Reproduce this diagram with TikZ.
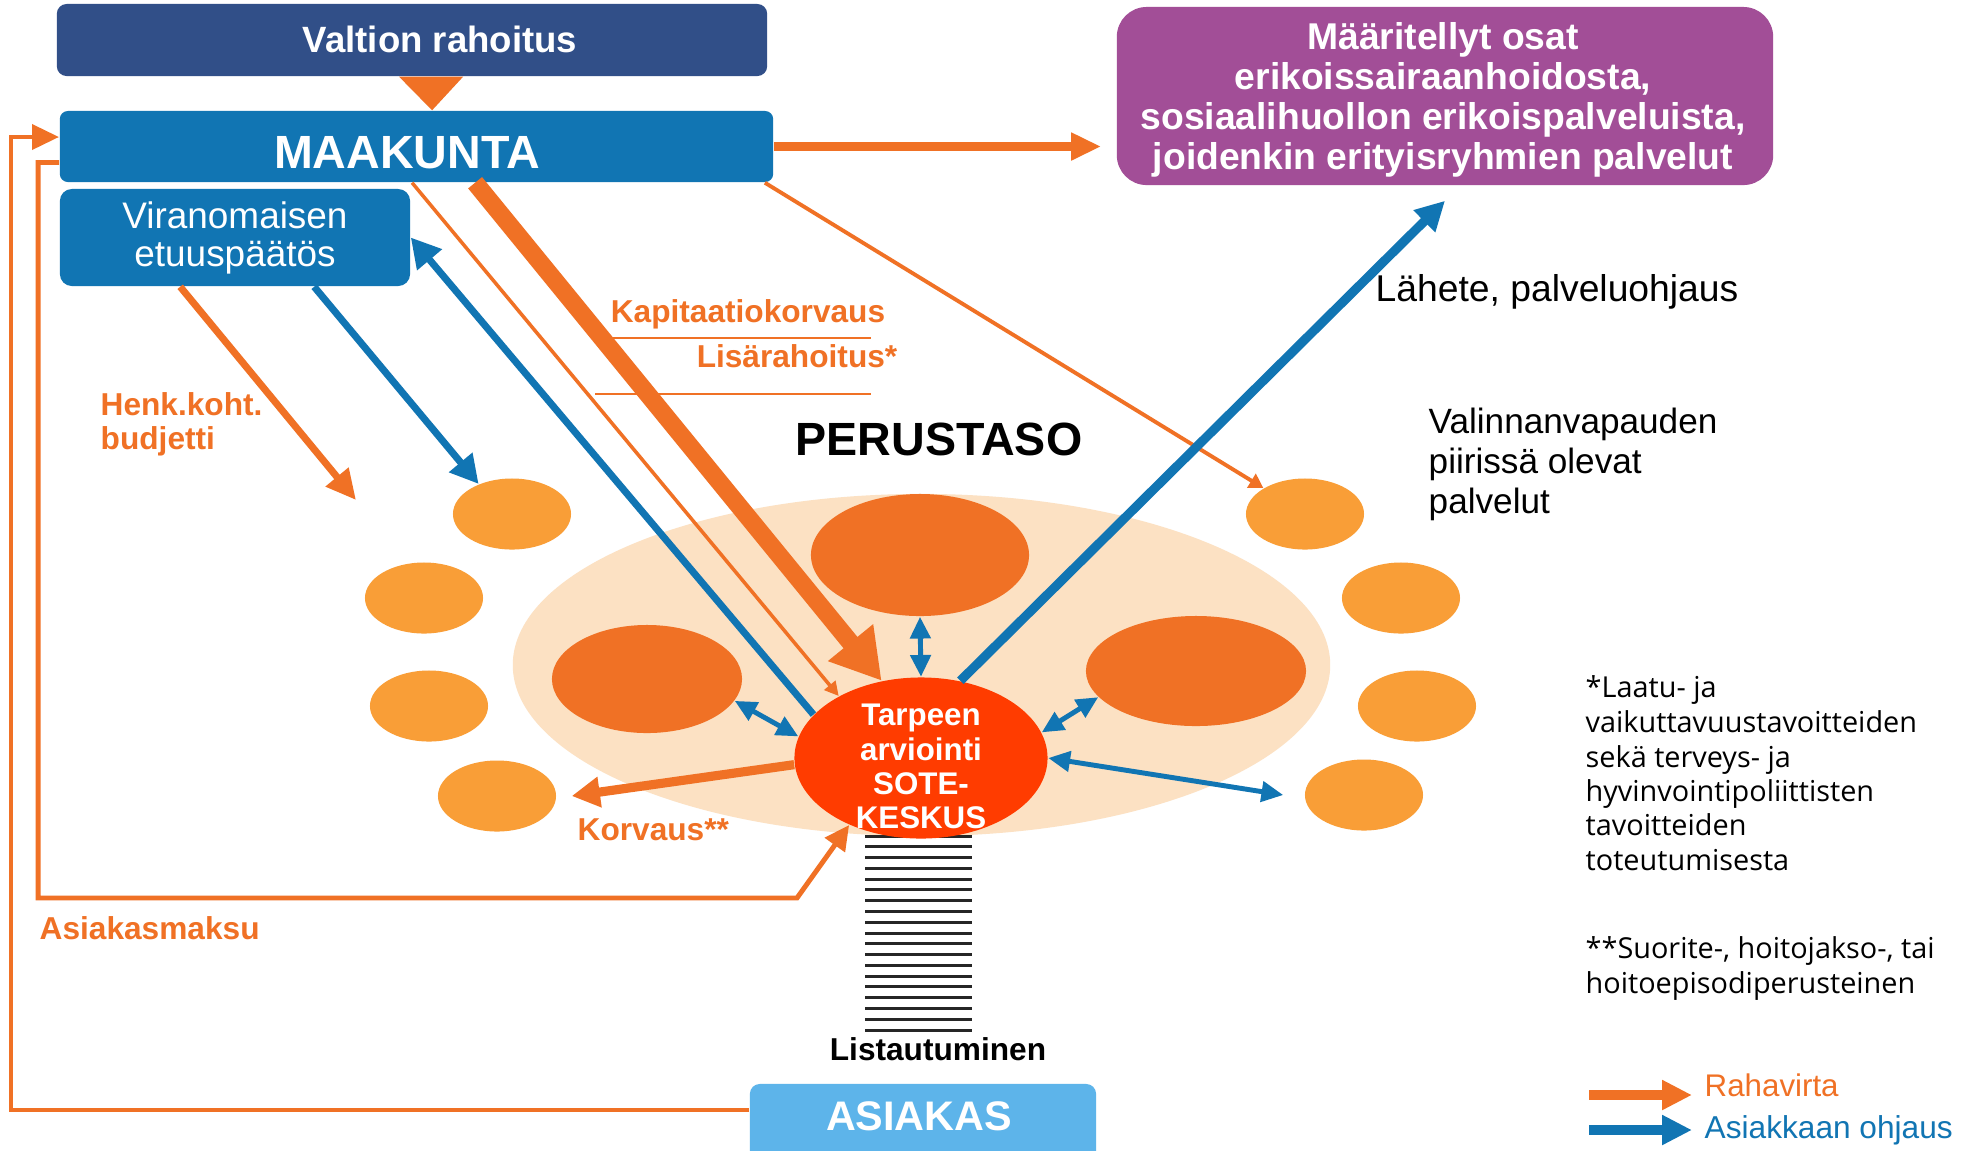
\documentclass[tikz,border=0pt]{standalone}
\usepackage{fontspec}
\setmainfont{Liberation Sans}
\newfontfamily\myr{Open Sans}
\usetikzlibrary{arrows.meta,shapes.geometric,calc}
\definecolor{navy}{HTML}{314F88}
\definecolor{mblue}{HTML}{1175B3}
\definecolor{purp}{HTML}{A24E97}
\definecolor{org}{HTML}{F07125}
\definecolor{lorg}{HTML}{F99E37}
\definecolor{peach}{HTML}{FCE1C3}
\definecolor{sred}{HTML}{FF3C00}
\definecolor{lblue}{HTML}{5DB4EA}
\begin{document}
\begin{tikzpicture}[x=0.01cm,y=-0.01cm,
  box/.style={rectangle,inner sep=0pt,text=white},
  blob/.style={ellipse,inner sep=0pt,fill=lorg,minimum width=11.8mm,minimum height=7.1mm},
  bigblob/.style={ellipse,inner sep=0pt,fill=org},
  olabel/.style={inner sep=0pt,text=org,font=\bfseries\fontsize{9}{10}\selectfont},
  reglabel/.style={inner sep=0pt,font=\fontsize{10.6}{11}\selectfont},
  fnote/.style={inner sep=0pt,anchor=base west,font=\myr\fontsize{8.2}{10}\selectfont},
  stripe/.style={line width=0.85pt,draw=black!85},
  uline/.style={draw=org,line width=0.7pt}]
\useasboundingbox (0,0) rectangle (1971,1150);
\fill[white] (0,0) rectangle (1971,1150);

% perustaso area
\node[ellipse,fill=peach,inner sep=0pt,minimum width=81.7mm,minimum height=34.2mm] (peach) at (921.5,665) {};
\node[bigblob,minimum width=21.8mm,minimum height=12.2mm] (T) at (920,555) {};
\node[bigblob,minimum width=19mm,minimum height=10.8mm] (L) at (647,679) {};
\node[bigblob,minimum width=22mm,minimum height=11mm] (R) at (1196,671) {};
\node[blob] (A) at (512,514) {};
\node[blob] (B) at (424,598) {};
\node[blob] (C) at (429,706) {};
\node[blob] (D) at (497,796) {};
\node[blob] (E) at (1305,514) {};
\node[blob] (F) at (1401,598) {};
\node[blob] (G) at (1417,706) {};
\node[blob] (H) at (1364,795) {};

% listautuminen stripes
\foreach \i in {0,...,18} \draw[stripe] (865,{836+\i*10.78}) -- (972,{836+\i*10.78});

% boxes
\node[box,fill=navy,rounded corners=2.8pt,minimum width=71mm,minimum height=7.2mm] (valtion) at (412,40) {};
\node[inner sep=0pt,anchor=base,text=white,font=\bfseries\fontsize{10.4}{12}\selectfont] (valtiont) at (440,52) {Valtion rahoitus};
\node[box,fill=mblue,rounded corners=2.3pt,minimum width=71.3mm,minimum height=7.1mm] (maak) at (416.5,146.5) {};
\node[inner sep=0pt,anchor=base,text=white,font=\bfseries\fontsize{13.25}{14}\selectfont] (maakt) at (407,168) {MAAKUNTA};
\node[box,fill=mblue,rounded corners=3.4pt,minimum width=35mm,minimum height=9.7mm,align=center,font=\fontsize{10.5}{10.8}\selectfont] (viran) at (235,237.5) {Viranomaisen\\etuuspäätös};
\node[box,fill=purp,rounded corners=8.5pt,minimum width=65.6mm,minimum height=17.8mm] (purple) at (1445,96) {};
\node[text=white,align=center,font=\bfseries\fontsize{10.6}{11.4}\selectfont] (purplet) at (1443,100) {Määritellyt osat\\erikoissairaanhoidosta,\\sosiaalihuollon erikoispalveluista,\\joidenkin erityisryhmien palvelut};
\node[box,fill=lblue,rounded corners=2.8pt,minimum width=34.6mm,minimum height=8.6mm] (asiak) at (923,1127) {};
\node[inner sep=0pt,anchor=base,text=white,font=\bfseries\fontsize{11.75}{13}\selectfont] (asiakt) at (919,1130) {ASIAKAS};

% triangle from valtion to maakunta
\fill[org] ($(valtion.south west)+(343,0)$) -- ($(valtion.south west)+(407,0)$) -- ($(maak.north west)+(373,0)$) -- cycle;

% SOTE
\node[ellipse,fill=sred,inner sep=0pt,minimum width=25.3mm,minimum height=16.1mm] (sote) at (921,758) {};

% arrows: money
\draw[org,line width=2.6pt,-{Triangle[length=8.5pt,width=7.4pt]}] (maak.east) -- ([xshift=-1.5mm]maak.east -| purple.west);
\draw[org,line width=2pt,-{Triangle[length=8.5pt,width=8pt]}] ($(viran.south west)+(121,0)$) -- (356,500) coordinate (henkend);
\draw[org,line width=1pt,-{Triangle[length=4pt,width=4pt]}] ($(maak.south west)+(353,0)$) -- (sote.143);
\draw[org,line width=5.1pt,-{Triangle[length=14pt,width=15.6pt]}] ($(maak.south west)+(416,0)$) -- (sote.117);
\draw[org,line width=1.1pt,-{Triangle[length=4pt,width=4.5pt]}] ($(maak.south east)+(-9,0)$) -- (E.148);
\draw[org,line width=2.6pt,-{Triangle[length=8pt,width=8.3pt]}] (sote.183) -- ($(D.east)+(15,0)$);
\draw[org,line width=1.4pt,-{Triangle[length=7pt,width=6.8pt]}] ($(maak.west)+(0,16)$) -- ++(-21,0) |- (797,898) -- (sote.223);
\draw[org,line width=1.4pt,-{Triangle[length=7.7pt,width=7pt]}] ($(asiak.west)+(0,-17)$) -| (11,137) -- ($(maak.west)+(0,-9.5)$);

% arrows: client steering
\draw[mblue,line width=2pt,-{Triangle[length=8pt,width=8.2pt]}] ($(viran.south west)+(255,0)$) -- (A.138);
\draw[mblue,line width=2pt,-{Triangle[length=8.3pt,width=8.8pt]}] (sote.158) -- (viran.east);
\draw[mblue,line width=2.6pt,-{Triangle[length=8.3pt,width=8.3pt]}] (sote.63) -- ([yshift=-1.5mm]purple.south);
\draw[mblue,line width=1.4pt,{Triangle[length=6.2pt,width=5.7pt]}-{Triangle[length=6.2pt,width=5.7pt]}] (sote.north) -- (T.south);
\draw[mblue,line width=1.4pt,{Triangle[length=6.2pt,width=5.7pt]}-{Triangle[length=6.2pt,width=5.7pt]}] (sote.170) -- (L.-14);
\draw[mblue,line width=1.4pt,{Triangle[length=6.2pt,width=5.7pt]}-{Triangle[length=6.2pt,width=5.7pt]}] (sote.12) -- (R.195);
\draw[mblue,line width=1.4pt,{Triangle[length=6.2pt,width=5.7pt]}-{Triangle[length=6.2pt,width=5.7pt]}] (sote.east) -- ($(H.west)+(-21,0)$);

\node[text=white,align=center,font=\bfseries\fontsize{8.9}{9.7}\selectfont] (sotet) at (921,766.5) {Tarpeen\\arviointi\\SOTE-\\KESKUS};

% labels
\node[inner sep=0pt,anchor=base,font=\bfseries\fontsize{13.25}{14}\selectfont] (perus) at (939,455) {PERUSTASO};
\node[inner sep=0pt,anchor=base,font=\bfseries\fontsize{9}{10}\selectfont] (lista) at (938,1060) {Listautuminen};
\node[olabel,anchor=base] (kapi) at (748,322) {Kapitaatiokorvaus};
\node[olabel,anchor=base] (lisa) at (797,367) {Lisärahoitus*};
\draw[uline] (612,338) -- (871,338);
\draw[uline] (595,394) -- (871,394);
\node[olabel,anchor=base west] (henk1) at (100,415) {Henk.koht.};
\node[olabel,anchor=base west] (henk2) at (100,449) {budjetti};
\node[olabel,anchor=base west] (asmaksu) at (39,939) {Asiakasmaksu};
\node[olabel,anchor=base west] (korv) at (577,840) {Korvaus**};
\node[reglabel,anchor=base west] (lahete) at (1375,301) {Lähete, palveluohjaus};
\node[reglabel,anchor=base west,font=\fontsize{10}{11}\selectfont] (val1) at (1428,433) {Valinnanvapauden};
\node[reglabel,anchor=base west,font=\fontsize{10}{11}\selectfont] (val2) at (1428,473) {piirissä olevat};
\node[reglabel,anchor=base west,font=\fontsize{10}{11}\selectfont] (val3) at (1428,513) {palvelut};

% footnotes
\node[fnote] (f1) at (1585,697) {*Laatu- ja};
\node[fnote] (f2) at (1585,732) {vaikuttavuustavoitteiden};
\node[fnote] (f3) at (1585,767) {sekä terveys- ja};
\node[fnote] (f4) at (1585,801) {hyvinvointipoliittisten};
\node[fnote] (f5) at (1585,835) {tavoitteiden};
\node[fnote] (f6) at (1585,870) {toteutumisesta};
\node[fnote] (f7) at (1585,958) {**Suorite-, hoitojakso-, tai};
\node[fnote] (f8) at (1585,993) {hoitoepisodiperusteinen};

% legend
\coordinate (lg1s) at (1589,1095);
\coordinate (lg1e) at (1692,1095);
\coordinate (lg2s) at (1589,1130);
\coordinate (lg2e) at (1692,1130);
\draw[org,line width=3.1pt,-{Triangle[length=8.5pt,width=8pt]}] (lg1s) -- (lg1e);
\draw[mblue,line width=3.1pt,-{Triangle[length=8.5pt,width=8pt]}] (lg2s) -- (lg2e);
\node[inner sep=0pt,anchor=base west,text=org,font=\fontsize{8.9}{10}\selectfont] (leg1) at (1704,1096) {Rahavirta};
\node[inner sep=0pt,anchor=base west,text=mblue,font=\fontsize{9}{10}\selectfont] (leg2) at (1704,1138) {Asiakkaan ohjaus};
\end{tikzpicture}
\end{document}
